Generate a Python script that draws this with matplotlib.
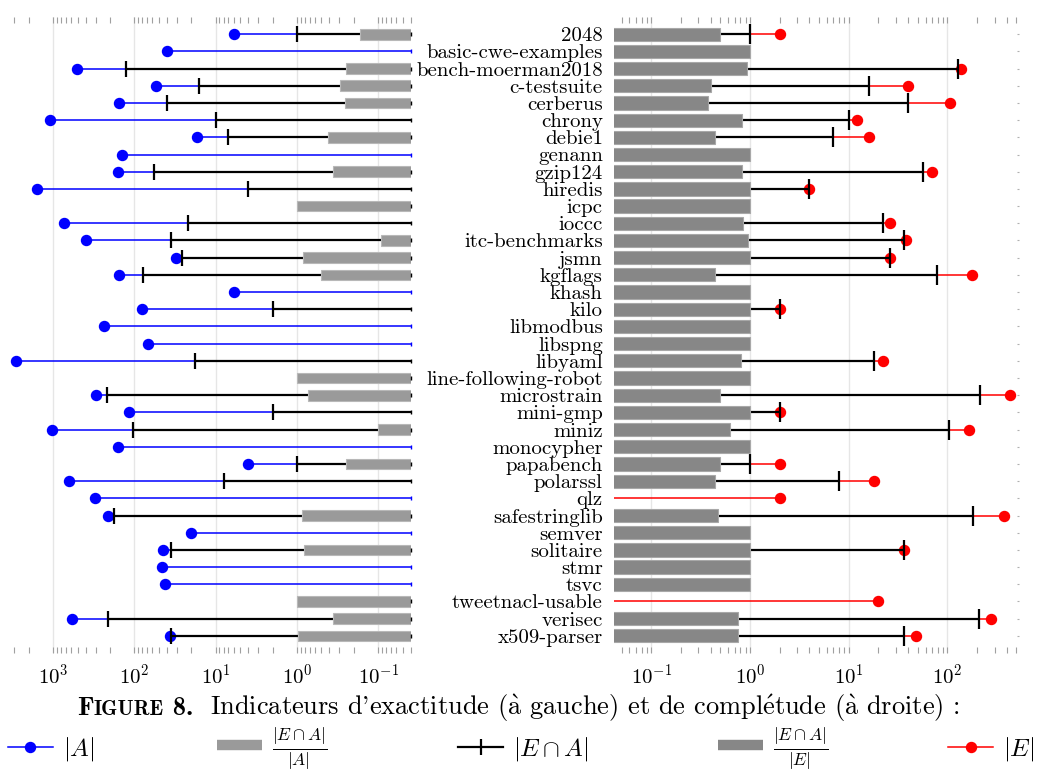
import numpy as np
import matplotlib
matplotlib.use("Agg")
import matplotlib.pyplot as plt
import matplotlib.transforms as mtransforms
from matplotlib.lines import Line2D
from matplotlib.ticker import LogLocator, NullFormatter

plt.rcParams["mathtext.fontset"] = "cm"
plt.rcParams["font.family"] = ["cmr10", "DejaVu Serif"]
plt.rcParams["axes.formatter.use_mathtext"] = True

projects = ["2048", "basic-cwe-examples", "bench-moerman2018", "c-testsuite",
            "cerberus", "chrony", "debie1", "genann", "gzip124", "hiredis",
            "icpc", "ioccc", "itc-benchmarks", "jsmn", "kgflags", "khash",
            "kilo", "libmodbus", "libspng", "libyaml", "line-following-robot",
            "microstrain", "mini-gmp", "miniz", "monocypher", "papabench",
            "polarssl", "qlz", "safestringlib", "semver", "solitaire", "stmr",
            "tsvc", "tweetnacl-usable", "verisec", "x509-parser"]
# |A|
size_a = [6, 40, 515, 54, 155, 1090, 17, 141, 158, 1590,
          0, 730, 395, 31, 157, 6, 81, 235, 68, 2870,
          0, 295, 116, 1030, 158, 4, 634, 308, 210, 20,
          44, 46, 42, 0, 580, 37]
# |E|
size_e = [2, 0, 136, 40, 106, 12, 16, 0, 69, 4,
          0, 26, 38, 26, 178, 0, 2, 0, 0, 22,
          0, 432, 2, 165, 0, 2, 18, 2, 378, 0,
          36, 0, 0, 20, 278, 48]
# |E inter A|
size_ea = [1, 0, 128, 16, 40, 10, 7, 0, 57, 4,
           0, 22, 36, 26, 79, 0, 2, 0, 0, 18,
           0, 216, 2, 104, 0, 1, 8, 0, 180, 0,
           36, 0, 0, 0, 210, 36]

A = np.array(size_a, dtype=float)
E = np.array(size_e, dtype=float)
EA = np.array(size_ea, dtype=float)
y = np.arange(len(projects))
ratio_a = np.where(A > 0, EA / np.where(A > 0, A, 1), 1.0)
ratio_e = np.where(E > 0, EA / np.where(E > 0, E, 1), 1.0)

FLOOR = 1e-4  # below both axes, so lines/bars reach the edge
BLUE, RED = "#0000ff", "#ff0000"
BAR_A, BAR_E = "#9a9a9a", "#878787"

fig = plt.figure(figsize=(10.44, 7.73), dpi=100)
ax1 = fig.add_axes([0.0086, 0.1552, 0.3851, 0.8228])
ax2 = fig.add_axes([0.5878, 0.1552, 0.3882, 0.8228])

for ax in (ax1, ax2):
    ax.set_xscale("log")
    ax.set_ylim(36, -1)
    for s in ax.spines.values():
        s.set_visible(False)
    ax.xaxis.set_major_locator(LogLocator(base=10, numticks=20))
    ax.xaxis.set_minor_locator(LogLocator(base=10, subs=np.arange(2, 10), numticks=100))
    ax.xaxis.set_minor_formatter(NullFormatter())
    ax.tick_params(axis="x", which="both", direction="in", top=True, bottom=True,
                   length=4.5, width=0.8, color="#a0a0a0", labelsize=15, pad=7.5)
    ax.grid(True, which="major", axis="x", color="#e6e6e6", lw=1)
    ax.set_axisbelow(True)

# left panel : exactitude
ax1.set_xlim(3500, 0.0395)
has_a = A > 0
has_ea = EA > 0
ax1.hlines(y[has_a], A[has_a], FLOOR, color=BLUE, lw=1.1, zorder=2)
ax1.plot(A[has_a], y[has_a], "o", color=BLUE, ms=7.2, zorder=2.5)
ax1.hlines(y[has_ea], EA[has_ea], FLOOR, color="black", lw=1.6, zorder=3)
ax1.plot(EA[has_ea], y[has_ea], "|", color="black", ms=11.5, mew=1.6, zorder=3.5)
ax1.barh(y, ratio_a, left=FLOOR, height=0.62, color=BAR_A,
         edgecolor="#b8b8b8", lw=0.8, zorder=4)
cap_colors = ["black" if (e > 0 or a == 0) else BLUE for a, e in zip(A, EA)]
edge = mtransforms.blended_transform_factory(ax1.transAxes, ax1.transData)
for yi, c in zip(y, cap_colors):
    ax1.plot([1.0], [yi], "|", color=c, ms=3, mew=1.0, transform=edge,
             clip_on=False, zorder=5)
ax1.set_yticks([])

# right panel : completude
ax2.set_xlim(0.0415, 530)
has_e = E > 0
ax2.hlines(y[has_e], FLOOR, E[has_e], color=RED, lw=1.1, zorder=2)
ax2.plot(E[has_e], y[has_e], "o", color=RED, ms=7.2, zorder=2.5)
ax2.hlines(y[has_ea], FLOOR, EA[has_ea], color="black", lw=1.6, zorder=3)
ax2.plot(EA[has_ea], y[has_ea], "|", color="black", ms=14, mew=1.6, zorder=3.5)
ax2.barh(y, ratio_e, left=FLOOR, height=0.77, color=BAR_E,
         edgecolor="#a8a8a8", lw=0.8, zorder=4)
ax2.set_yticks(y)
ax2.set_yticklabels(projects, fontsize=15)
ax2.tick_params(axis="y", left=False, right=True, direction="in", length=1.5,
                color="#b0b0b0", pad=7.8)

# caption, "Figure" in small caps
fig.canvas.draw()
r = fig.canvas.get_renderer()
yb = 1 - 715 / 773
x = 77 / 1044
body = (r"Indicateurs d'exactitude ($\grave{\mathrm{a}}$ gauche) et de "
        r"compl$\acute{\mathrm{e}}$tude ($\grave{\mathrm{a}}$ droite) :")
for txt, fam, sz, gap in [("F", "cmb10", 19, 0), ("IGURE", "cmb10", 15, 0),
                          (" 8.", "cmb10", 19, 17), (body, "cmr10", 19, 0)]:
    t = fig.text(x, yb, txt, family=fam, fontsize=sz, va="baseline", ha="left")
    bb = t.get_window_extent(renderer=r)
    x = (bb.x1 + gap) / fig.bbox.width

# legend, one entry per column
entries = [
    (Line2D([], [], color=BLUE, lw=1.1, marker="o", ms=7.2), r"$|A|$", 8),
    (Line2D([], [], color=BAR_A, lw=7.5, solid_capstyle="butt"),
     r"$\frac{|E\cap A|}{|A|}$", 217),
    (Line2D([], [], color="black", lw=1.6, marker="|", ms=11.5, mew=1.6),
     r"$|E\cap A|$", 458),
    (Line2D([], [], color=BAR_E, lw=7.5, solid_capstyle="butt"),
     r"$\frac{|E\cap A|}{|E|}$", 718),
    (Line2D([], [], color=RED, lw=1.1, marker="o", ms=7.2), r"$|E|$", 948),
]
for h, lab, px in entries:
    fig.legend([h], [lab], loc="center left", bbox_to_anchor=(px / 1044, 1 - 749 / 773),
               frameon=False, fontsize=18, handlelength=1.8, handletextpad=0.4,
               borderpad=0, borderaxespad=0)

fig.savefig("out.png", dpi=100)
